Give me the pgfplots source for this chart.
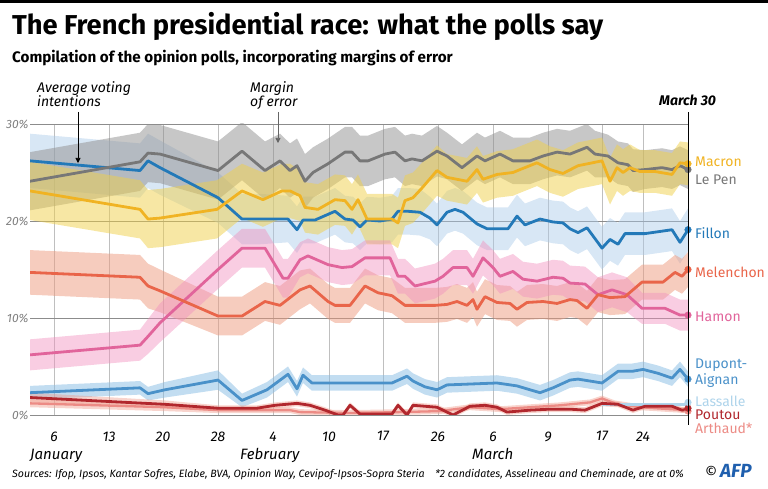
\documentclass[border=0pt]{standalone}
\usepackage{pgfplots}
\pgfplotsset{compat=1.18}
\usepackage{pgfplotstable}
\usepgfplotslibrary{fillbetween}
\usetikzlibrary{arrows.meta}
\usepackage{fontspec}
\setmainfont{Fira Sans}
\definecolor{cMacron}{HTML}{F0B323}
\definecolor{cLePen}{HTML}{777777}
\definecolor{cFillon}{HTML}{2379B8}
\definecolor{cMel}{HTML}{E9654A}
\definecolor{cHamon}{HTML}{E1649B}
\definecolor{cDupont}{HTML}{4A91C9}
\definecolor{cLassalle}{HTML}{AFD4EB}
\definecolor{cPoutou}{HTML}{B1272D}
\definecolor{cArthaud}{HTML}{EC8B85}
\definecolor{bLePen}{HTML}{8F8F8F}
\definecolor{bMacron}{HTML}{F0D04A}
\definecolor{bFillon}{HTML}{A9C9E8}
\definecolor{bMel}{HTML}{EE9A7E}
\definecolor{bHamon}{HTML}{F190BE}
\definecolor{bDupont}{HTML}{86BCE3}
\definecolor{bPoutou}{HTML}{F0A090}
\definecolor{afpblue}{HTML}{1F5FAE}

\pgfplotstableread{
x y e
30 24.1 3.0
140 26.1 3.0
148 27.0 3.0
160 26.9 3.0
218 25.2 3.0
242 27.2 3.0
265 25.2 3.0
280 26.2 2.8
290 25.2 2.8
297 25.7 2.8
305 24.1 2.8
313 25.0 2.6
328 25.9 2.6
345 27.1 2.6
352 27.1 2.6
360 26.2 2.6
368 26.2 2.6
385 26.9 2.6
395 27.1 2.6
405 26.2 2.6
412 26.4 2.6
422 26.2 2.6
437 27.2 2.6
447 26.7 2.4
462 25.5 2.4
477 26.7 2.4
485 26.2 2.4
500 26.9 2.4
513 26.2 2.4
530 26.2 2.4
543 26.7 2.4
557 27.1 2.4
570 26.9 2.4
587 27.6 2.4
595 26.9 2.4
608 26.7 2.2
618 26.0 2.2
628 25.8 2.2
633 25.2 2.2
645 25.3 2.0
662 25.5 2.0
672 25.3 2.0
680 25.7 2.0
688 25.3 2.0
}\lepen

\pgfplotstableread{
x y e
30 23.1 3.0
140 21.2 3.0
148 20.2 3.0
160 20.3 3.0
217 21.2 3.0
242 23.1 2.8
263 22.2 2.8
282 23.1 2.8
290 23.1 2.8
300 22.6 2.6
305 21.4 2.6
318 21.2 2.6
335 22.2 2.6
345 22.1 2.6
352 21.2 2.6
358 22.2 2.6
367 20.2 2.6
382 20.2 2.6
392 20.2 2.6
398 19.8 2.6
405 22.1 2.6
413 22.4 2.6
422 23.4 2.6
437 25.2 2.6
447 24.5 2.4
457 24.3 2.4
467 24.1 2.4
477 25.3 2.4
483 24.3 2.4
497 24.8 2.4
513 25.0 2.4
520 25.3 2.4
537 26.0 2.4
550 25.3 2.4
563 24.9 2.4
578 25.7 2.4
602 26.2 2.4
610 24.1 2.4
617 25.5 2.4
623 25.0 2.4
630 25.5 2.4
640 25.1 2.2
655 25.1 2.2
672 24.8 2.2
680 26.0 2.2
688 25.9 2.2
}\macron

\pgfplotstableread{
x y e
30 26.2 2.8
140 25.2 2.8
148 26.2 2.8
160 25.5 2.8
218 22.4 2.6
242 20.2 2.6
260 20.2 2.6
288 20.2 2.4
297 19.1 2.4
303 20.1 2.4
315 20.1 2.4
335 21.0 2.4
345 20.2 2.4
353 20.1 2.4
360 19.4 2.4
367 20.1 2.4
380 20.0 2.4
392 20.2 2.4
398 21.0 2.4
408 21.0 2.4
420 20.9 2.4
430 20.3 2.2
437 19.6 2.2
447 20.9 2.2
455 21.2 2.2
463 20.9 2.2
477 19.7 2.2
487 19.2 2.2
508 19.2 2.2
517 20.5 2.2
525 19.6 2.2
540 20.2 2.2
553 19.9 2.2
563 19.8 2.2
570 19.2 2.2
578 18.8 2.2
587 19.3 2.2
602 17.2 2.2
610 18.1 2.2
618 17.6 2.2
625 18.7 2.2
645 18.7 2.2
672 19.1 2.2
680 17.8 2.2
688 19.1 2.2
}\fillon

\pgfplotstableread{
x y e
30 14.7 2.3
140 14.2 2.3
148 13.3 2.3
160 12.8 2.2
218 10.2 2.0
242 10.2 2.0
265 11.7 2.0
280 11.3 2.0
300 12.9 2.0
310 13.3 1.8
328 11.7 1.8
335 11.3 1.8
350 11.3 1.8
365 13.3 1.8
378 12.6 1.8
392 12.3 1.8
405 11.3 1.8
435 11.3 1.8
447 11.4 1.8
457 11.7 1.8
467 11.3 1.8
473 11.9 1.8
477 10.9 1.8
485 12.2 1.8
497 11.6 1.8
510 11.5 1.8
517 10.9 1.8
527 11.6 1.8
543 11.7 1.8
557 11.5 1.8
570 11.9 1.8
577 11.8 1.8
587 11.0 1.8
598 12.4 1.8
610 12.1 1.8
625 12.2 1.8
642 13.7 1.8
663 13.7 1.8
675 14.7 1.8
682 14.3 1.8
688 15.0 1.8
}\melenchon

\pgfplotstableread{
x y e
30 6.2 1.6
140 7.2 1.6
148 8.1 1.8
160 9.5 2.0
218 15.0 2.0
242 17.2 2.0
265 17.2 2.0
283 14.1 2.0
288 14.1 2.0
300 16.0 1.8
308 16.4 1.8
328 15.5 1.8
342 15.2 1.8
352 15.3 1.8
365 16.2 1.8
390 16.2 1.8
398 14.3 1.8
405 14.3 1.8
415 13.3 1.8
435 13.8 1.8
443 14.3 1.8
453 15.2 1.8
467 15.2 1.8
473 14.3 1.8
483 16.2 1.8
493 15.2 1.8
500 14.3 1.8
513 14.8 1.8
523 14.0 1.8
537 13.8 1.8
553 14.2 1.8
563 14.1 1.8
570 13.6 1.8
585 13.5 1.8
598 12.4 1.8
612 12.9 1.8
627 12.4 1.8
642 11.0 1.6
665 11.0 1.6
680 10.3 1.6
688 10.3 1.6
}\hamon

\pgfplotstableread{
x y e
30 2.3 0.7
140 2.8 0.7
148 2.2 0.7
165 2.6 0.8
218 3.6 1.0
242 1.5 0.7
267 2.6 0.8
288 4.2 0.8
297 2.7 0.8
303 4.1 0.8
312 3.3 0.8
392 3.3 0.8
407 4.0 0.8
413 3.5 0.8
425 2.9 0.8
437 2.6 0.8
447 3.1 0.8
497 3.3 0.8
517 3.0 0.8
530 2.6 0.8
540 2.3 0.8
553 2.8 0.8
570 3.6 0.8
578 3.7 0.8
602 3.3 0.8
618 4.5 0.8
632 4.5 0.8
643 4.7 0.8
658 4.3 0.8
672 3.8 0.8
680 4.7 0.8
688 3.7 0.8
}\dupont

\pgfplotstableread{
x y e
30 1.8 0.5
165 1.1 0.4
218 0.7 0.3
257 0.7 0.3
275 1.0 0.3
297 1.2 0.3
310 1.0 0.3
325 0.5 0.3
338 0.0 0.3
343 0.0 0.3
350 1.0 0.3
360 0.1 0.3
392 0.1 0.3
398 1.0 0.3
407 0.0 0.3
413 1.0 0.3
437 0.8 0.3
453 0.0 0.3
470 0.9 0.3
485 1.0 0.3
497 0.8 0.3
507 0.3 0.3
530 0.5 0.3
550 0.6 0.3
570 0.6 0.3
585 0.5 0.3
602 1.2 0.3
618 1.1 0.3
633 0.5 0.3
645 0.9 0.3
672 0.9 0.3
682 0.5 0.3
688 0.6 0.3
}\poutou

\pgfplotstableread{
x y e
30 1.2 0.4
165 0.8 0.4
218 0.5 0.3
290 0.5 0.3
300 0.3 0.3
350 0.2 0.3
400 0.3 0.3
440 0.4 0.3
470 0.8 0.3
500 0.6 0.3
530 0.8 0.3
560 1.0 0.3
590 1.3 0.3
602 1.7 0.3
615 1.2 0.3
640 0.8 0.3
670 0.6 0.3
688 0.5 0.3
}\arthaud

\pgfplotstableread{
x y
602 1.1
630 1.1
660 1.1
688 1.1
}\lassalle

\begin{document}
\begin{tikzpicture}
\begin{axis}[
  at={(30pt,74pt)}, anchor=south west,
  scale only axis, width=658pt, height=291pt,
  xmin=30, xmax=688, ymin=0, ymax=30,
  axis line style={draw=none},
  tick style={draw=none},
  xtick={54,109,163,218,273,329,383,438,493,548,602,643},
  xticklabels={6,13,20,28,4,10,17,26,6,9,17,24},
  ytick={0,10,20,30},
  yticklabels={0\%,10\%,20\%,30\%},
  xmajorgrids, ymajorgrids,
  x grid style={color=black!25, line width=0.8pt},
  y grid style={color=black!45, line width=0.8pt},
  xticklabel style={font=\fontsize{14}{14}\selectfont\itshape, yshift=-13pt},
  yticklabel style={font=\fontsize{12}{12}\selectfont\itshape, text=black!50, xshift=2pt},
]
% bands
\addplot[draw=none, name path=fiU, forget plot] table[x=x, y expr=\thisrow{y}+\thisrow{e}] {\fillon};
\addplot[draw=none, name path=fiL, forget plot] table[x=x, y expr=\thisrow{y}-\thisrow{e}] {\fillon};
\addplot[fill=bFillon, fill opacity=0.45, draw=none] fill between[of=fiU and fiL];
\addplot[draw=none, name path=lpU, forget plot] table[x=x, y expr=\thisrow{y}+\thisrow{e}] {\lepen};
\addplot[draw=none, name path=lpL, forget plot] table[x=x, y expr=\thisrow{y}-\thisrow{e}] {\lepen};
\addplot[fill=bLePen, fill opacity=0.5, draw=none] fill between[of=lpU and lpL];
\addplot[draw=none, name path=maU, forget plot] table[x=x, y expr=\thisrow{y}+\thisrow{e}] {\macron};
\addplot[draw=none, name path=maL, forget plot] table[x=x, y expr=\thisrow{y}-\thisrow{e}] {\macron};
\addplot[fill=bMacron, fill opacity=0.5, draw=none] fill between[of=maU and maL];
\addplot[draw=none, name path=meU, forget plot] table[x=x, y expr=\thisrow{y}+\thisrow{e}] {\melenchon};
\addplot[draw=none, name path=meL, forget plot] table[x=x, y expr=\thisrow{y}-\thisrow{e}] {\melenchon};
\addplot[fill=bMel, fill opacity=0.5, draw=none] fill between[of=meU and meL];
\addplot[draw=none, name path=haU, forget plot] table[x=x, y expr=\thisrow{y}+\thisrow{e}] {\hamon};
\addplot[draw=none, name path=haL, forget plot] table[x=x, y expr=\thisrow{y}-\thisrow{e}] {\hamon};
\addplot[fill=bHamon, fill opacity=0.45, draw=none] fill between[of=haU and haL];
\addplot[draw=none, name path=duU, forget plot] table[x=x, y expr=\thisrow{y}+\thisrow{e}] {\dupont};
\addplot[draw=none, name path=duL, forget plot] table[x=x, y expr=\thisrow{y}-\thisrow{e}] {\dupont};
\addplot[fill=bDupont, fill opacity=0.5, draw=none] fill between[of=duU and duL];
\addplot[draw=none, name path=arU, forget plot] table[x=x, y expr=\thisrow{y}+\thisrow{e}] {\arthaud};
\addplot[draw=none, name path=arL, forget plot] table[x=x, y expr=\thisrow{y}-\thisrow{e}] {\arthaud};
\addplot[fill=bPoutou, fill opacity=0.45, draw=none] fill between[of=arU and arL];
\addplot[draw=none, name path=poU, forget plot] table[x=x, y expr=\thisrow{y}+\thisrow{e}] {\poutou};
\addplot[draw=none, name path=poL, forget plot] table[x=x, y expr=\thisrow{y}-\thisrow{e}] {\poutou};
\addplot[fill=bPoutou, fill opacity=0.45, draw=none] fill between[of=poU and poL];
% lines
\addplot[cArthaud, line width=2.3pt, line join=round] table[x=x,y=y] {\arthaud};
\addplot[cLassalle, line width=2.8pt, line join=round] table[x=x,y=y] {\lassalle};
\addplot[cPoutou, line width=2.8pt, line join=round] table[x=x,y=y] {\poutou};
\addplot[cDupont, line width=2.8pt, line join=round] table[x=x,y=y] {\dupont};
\addplot[cHamon, line width=2.8pt, line join=round] table[x=x,y=y] {\hamon};
\addplot[cMel, line width=2.8pt, line join=round] table[x=x,y=y] {\melenchon};
\addplot[cFillon, line width=2.8pt, line join=round] table[x=x,y=y] {\fillon};
\addplot[cLePen, line width=2.8pt, line join=round] table[x=x,y=y] {\lepen};
\addplot[cMacron, line width=2.8pt, line join=round] table[x=x,y=y] {\macron};
% dots
\addplot[only marks, mark=*, mark size=3.3pt, cArthaud] coordinates {(29,1.2) (688,0.4)};
\addplot[only marks, mark=*, mark size=3.3pt, cPoutou] coordinates {(29,1.8) (688,0.7)};
\addplot[only marks, mark=*, mark size=3.3pt, cLassalle] coordinates {(688,1.3)};
\addplot[only marks, mark=*, mark size=3.3pt, cDupont] coordinates {(29,2.3) (688,3.7)};
\addplot[only marks, mark=*, mark size=3.3pt, cHamon] coordinates {(29,6.2) (688,10.3)};
\addplot[only marks, mark=*, mark size=3.3pt, cMel] coordinates {(29,14.7) (688,15.0)};
\addplot[only marks, mark=*, mark size=3.3pt, cFillon] coordinates {(29,26.2) (688,19.1)};
\addplot[only marks, mark=*, mark size=3.3pt, cLePen] coordinates {(29,24.1) (688,25.3)};
\addplot[only marks, mark=*, mark size=3.3pt, cMacron] coordinates {(29,23.1) (688,25.9)};
\end{axis}

\begin{scope}[x=1pt,y=1pt]
\path[use as bounding box] (0,0) rectangle (768,489);
\fill[black] (0,486) rectangle (768,489);
\node[anchor=base west, inner sep=0pt, font=\fontsize{27.3}{30}\selectfont\bfseries] at (12,454) {The French presidential race: what the polls say};
\node[anchor=base west, inner sep=0pt, font=\fontsize{15.2}{16}\selectfont\bfseries] at (12,426) {Compilation of the opinion polls, incorporating margins of error};
\node[anchor=base west, inner sep=0pt, font=\fontsize{14}{14}\selectfont\itshape] at (37,396) {Average voting};
\node[anchor=base west, inner sep=0pt, font=\fontsize{14}{14}\selectfont\itshape] at (37,382) {intentions};
\node[anchor=base west, inner sep=0pt, font=\fontsize{14}{14}\selectfont\itshape] at (250,396) {Margin};
\node[anchor=base west, inner sep=0pt, font=\fontsize{14}{14}\selectfont\itshape] at (250,382) {of error};
\node[anchor=base west, inner sep=0pt, font=\fontsize{14}{14}\selectfont\bfseries\itshape] at (659,383) {March 30};
\draw[black, line width=0.9pt] (688,64) -- (688,377);
\draw[black, line width=0.6pt, -{Triangle[length=5pt,width=5pt]}] (78,377) -- (78,326);
\draw[black!60, line width=0.6pt, -{Triangle[length=5pt,width=5pt]}] (278,377) -- (278,346);
\node[anchor=base west, inner sep=0pt, font=\fontsize{15}{15}\selectfont\itshape] at (30,29) {January};
\node[anchor=base west, inner sep=0pt, font=\fontsize{15}{15}\selectfont\itshape] at (240,29) {February};
\node[anchor=base west, inner sep=0pt, font=\fontsize{15}{15}\selectfont\itshape] at (472,29) {March};
\begin{scope}[every node/.style={anchor=west, inner sep=0pt, font=\fontsize{14}{14}\selectfont}]
\node[text=cMacron] at (695,327) {Macron};
\node[text=cLePen] at (695,309) {Le Pen};
\node[text=cFillon] at (695,256) {Fillon};
\node[text=cMel] at (695,217) {Melenchon};
\node[text=cHamon] at (695,172) {Hamon};
\node[text=cDupont] at (695,124) {Dupont-};
\node[text=cDupont] at (695,108) {Aignan};
\node[text=cLassalle] at (695,88) {Lassalle};
\node[text=cPoutou] at (695,74) {Poutou};
\node[text=cArthaud] at (695,61) {Arthaud*};
\end{scope}
\node[anchor=base west, inner sep=0pt, font=\fontsize{10.6}{11}\selectfont\itshape] at (12,11) {Sources: Ifop, Ipsos, Kantar Sofres, Elabe, BVA, Opinion Way, Cevipof-Ipsos-Sopra Steria\quad *2 candidates, Asselineau and Cheminade, are at 0\%};
\node[anchor=base west, inner sep=0pt, font=\fontsize{15}{15}\selectfont] at (705,11) {\textcopyright};
\node[anchor=base west, inner sep=0pt, font=\fontsize{19}{19}\selectfont\bfseries\itshape, text=afpblue] at (720,11) {AFP};
\end{scope}
\end{tikzpicture}
\end{document}
